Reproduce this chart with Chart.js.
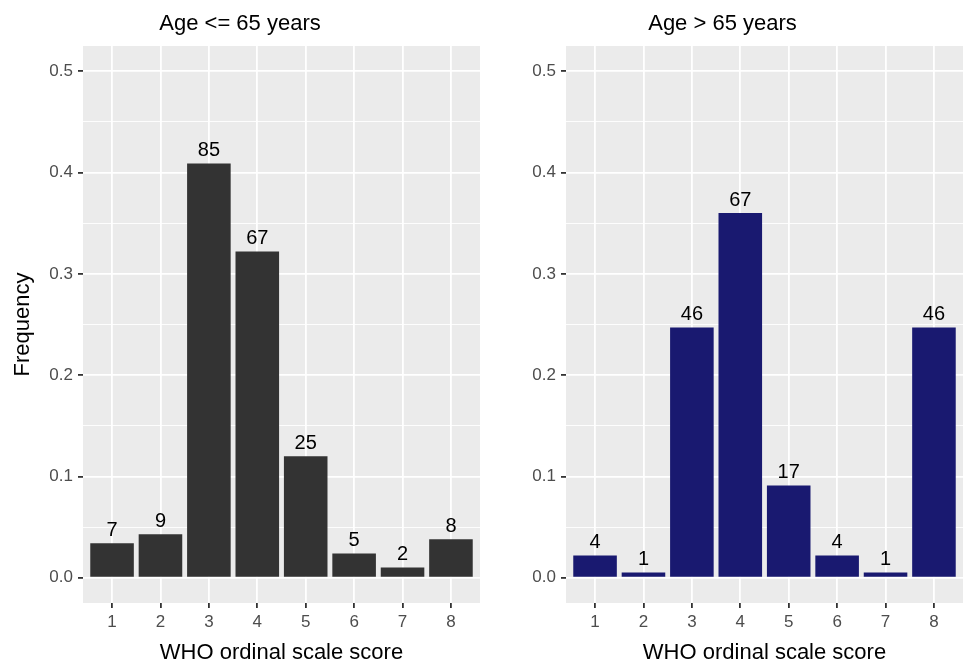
<!DOCTYPE html>
<html>
<head>
<meta charset="utf-8">
<script src="https://cdn.jsdelivr.net/npm/chart.js@4/dist/chart.umd.min.js"></script>
<style>
  html, body { margin: 0; padding: 0; background: #fff; }
  #wrap { position: relative; width: 965px; height: 667px; }
  canvas { position: absolute; top: 0; }
  #left { left: 0; }
  #right { left: 482px; }
</style>
</head>
<body>
<div id="wrap">
  <canvas id="left" width="482" height="667"></canvas>
  <canvas id="right" width="483" height="667"></canvas>
</div>
<script>
// WHO score categories
const scores = [1, 2, 3, 4, 5, 6, 7, 8];

// counts printed above the bars
const countsYoung = [7, 9, 85, 67, 25, 5, 2, 8];
const countsOld = [4, 1, 46, 67, 17, 4, 1, 46];

// frequency (bar height)
const freqYoung = [0.034, 0.043, 0.409, 0.322, 0.120, 0.024, 0.010, 0.038];
const freqOld = [0.022, 0.005, 0.247, 0.360, 0.091, 0.022, 0.005, 0.247];

// y axis ticks
const yMajor = [0, 0.1, 0.2, 0.3, 0.4, 0.5];
const yMajorLabels = ['0.0', '0.1', '0.2', '0.3', '0.4', '0.5'];
const yMinor = [0.05, 0.15, 0.25, 0.35, 0.45];

const FONT = '"Liberation Sans", Arial, Helvetica, sans-serif';
Chart.defaults.font.family = FONT;

const isMajor = (v) => yMajor.some(m => Math.abs(m - v) < 1e-6);

const panelBg = {
  id: 'panelBg',
  beforeDraw(chart) {
    const { ctx, chartArea: a } = chart;
    ctx.save();
    ctx.fillStyle = '#EBEBEB';
    ctx.fillRect(a.left, a.top, a.right - a.left, a.bottom - a.top);
    ctx.restore();
  }
};

const countLabels = {
  id: 'countLabels',
  afterDatasetsDraw(chart, args, opts) {
    const ctx = chart.ctx;
    const meta = chart.getDatasetMeta(0);
    ctx.save();
    ctx.font = '20px ' + FONT;
    ctx.fillStyle = '#000';
    ctx.textAlign = 'center';
    ctx.textBaseline = 'alphabetic';
    meta.data.forEach((bar, i) => {
      ctx.fillText(String(opts.counts[i]), bar.x, bar.y - 7.5);
    });
    ctx.restore();
  }
};

function makeChart(id, title, freq, counts, color, yTitle, yWidth) {
  return new Chart(document.getElementById(id), {
    type: 'bar',
    data: {
      datasets: [{
        data: scores.map((s, i) => ({ x: s, y: freq[i] })),
        backgroundColor: color,
        borderWidth: 0,
        barPercentage: 0.9,
        categoryPercentage: 1
      }]
    },
    options: {
      responsive: false,
      animation: false,
      layout: { padding: { left: 0, right: 2, top: 0, bottom: 0 } },
      plugins: {
        legend: { display: false },
        tooltip: { enabled: false },
        title: {
          display: true,
          text: title,
          color: '#000',
          font: { size: 22, weight: 'normal' },
          padding: { top: 11, bottom: 8.6 }
        },
        countLabels: { counts: counts }
      },
      scales: {
        x: {
          type: 'linear',
          offset: false,
          min: 0.4,
          max: 8.6,
          afterBuildTicks: (axis) => { axis.ticks = scores.map(v => ({ value: v })); },
          afterFit: (axis) => { axis.height = 64; },
          border: { display: false },
          grid: {
            offset: false,
            color: '#FFFFFF',
            lineWidth: 1.8,
            tickColor: '#333333',
            tickWidth: 1.8,
            tickLength: 5
          },
          ticks: {
            color: '#4D4D4D',
            font: { size: 17 },
            padding: 4,
            maxRotation: 0,
            callback: (v) => String(v)
          },
          title: {
            display: true,
            text: 'WHO ordinal scale score',
            color: '#000',
            font: { size: 22 },
            padding: { top: 0, bottom: 0.8 }
          }
        },
        y: {
          min: -0.025,
          max: 0.525,
          afterBuildTicks: (axis) => {
            axis.ticks = yMajor.concat(yMinor).sort((a, b) => a - b).map(v => ({ value: v }));
          },
          afterFit: (axis) => { axis.width = yWidth; },
          border: { display: false },
          grid: {
            color: '#FFFFFF',
            lineWidth: (c) => (c.tick && isMajor(c.tick.value) ? 1.8 : 0.9),
            tickColor: (c) => (c.tick && isMajor(c.tick.value) ? '#333333' : 'rgba(0,0,0,0)'),
            tickWidth: 1.8,
            tickLength: 5
          },
          ticks: {
            color: '#4D4D4D',
            font: { size: 17 },
            padding: 5,
            callback: (v) => {
              const i = yMajor.findIndex(m => Math.abs(m - v) < 1e-6);
              return i >= 0 ? yMajorLabels[i] : '';
            }
          },
          title: {
            display: yTitle !== '',
            text: yTitle,
            color: '#000',
            font: { size: 22 },
            padding: { top: 9.8, bottom: 0 }
          }
        }
      }
    },
    plugins: [panelBg, countLabels]
  });
}

makeChart('left', 'Age <= 65 years', freqYoung, countsYoung, '#333333', 'Frequency', 83);
makeChart('right', 'Age > 65 years', freqOld, countsOld, '#191970', '', 84);
</script>
</body>
</html>
